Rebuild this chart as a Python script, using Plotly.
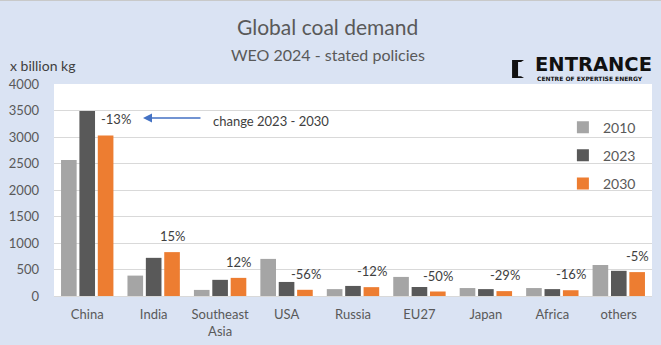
import plotly.graph_objects as go

# Coal demand by region, billion kg
regions = ["China", "India", "Southeast<br>Asia", "USA", "Russia", "EU27", "Japan", "Africa", "others"]
demand_2010 = [2565, 385, 115, 700, 130, 360, 150, 150, 585]
demand_2023 = [3490, 720, 305, 265, 190, 170, 130, 130, 475]
demand_2030 = [3030, 828, 342, 117, 167, 85, 92, 109, 451]
years = ["2010", "2023", "2030"]
colors = ["#a5a5a5", "#595959", "#ed7d31"]

TXT = "#595959"
FONT = "Lato"

fig = go.Figure()
for i, (yr, vals, col) in enumerate(zip(years, [demand_2010, demand_2023, demand_2030], colors)):
    fig.add_trace(go.Bar(
        x=regions, y=vals, name=yr, marker=dict(color=col, line=dict(width=0)),
        legendgroup=yr, hoverinfo="skip",
    ))

# Percentage change 2023 -> 2030 above the 2030 bars
for k, (reg, v23, v30) in enumerate(zip(regions, demand_2023, demand_2030)):
    pct = round((v30 / v23 - 1) * 100)
    fig.add_annotation(
        x=reg, y=v30, xref="x", yref="y", text=f"{pct}%", showarrow=False,
        xshift=29 if k == 0 else 19, yshift=16, yanchor="middle",
        font=dict(family=FONT, size=13, color="#404040"),
    )

# Arrow explaining the labels
fig.add_annotation(
    x=0.1488, y=3357, xref="paper", yref="y", ax=59, ay=0, axref="pixel", ayref="pixel",
    text="", showarrow=True, arrowhead=2, arrowsize=1.2, arrowwidth=1.5, arrowcolor="#4472c4",
)
fig.add_annotation(
    x=0.2625, y=0.825, xref="paper", yref="paper", xanchor="left", yanchor="middle",
    text="change 2023 - 2030", showarrow=False, font=dict(family=FONT, size=13, color="#404040"),
)

# Titles
fig.add_annotation(x=0.458, y=1.269, xref="paper", yref="paper", showarrow=False,
                   text="Global coal demand", yanchor="middle",
                   font=dict(family=FONT, size=21, color=TXT))
fig.add_annotation(x=0.458, y=1.1415, xref="paper", yref="paper", showarrow=False,
                   text="WEO 2024 - stated policies", yanchor="middle",
                   font=dict(family=FONT, size=16, color=TXT))
fig.add_annotation(x=-0.0769, y=1.0896, xref="paper", yref="paper", showarrow=False,
                   text="x billion kg", xanchor="left", yanchor="middle",
                   font=dict(family=FONT, size=14, color="#404040"))

# ENTRANCE logo
fig.add_shape(type="path", xref="paper", yref="paper",
              path="M 0.766 1.113 L 0.786 1.113 L 0.781 1.104 L 0.776 1.104 L 0.776 1.037 "
                   "L 0.781 1.037 L 0.786 1.028 L 0.766 1.028 Z",
              fillcolor="#111111", line=dict(width=0))
fig.add_annotation(x=0.801, y=1.090, xref="paper", yref="paper", showarrow=False,
                   text="<b>ENTRANCE</b>", xanchor="left", yanchor="middle",
                   font=dict(family="DejaVu Sans", size=19.5, color="#111111"))
fig.add_annotation(x=0.805, y=1.028, xref="paper", yref="paper", showarrow=False,
                   text="<b>CENTRE OF EXPERTISE ENERGY</b>", xanchor="left", yanchor="middle",
                   font=dict(family="DejaVu Sans", size=6, color="#111111"))

# Thin border along the top edge
fig.add_shape(type="line", xref="paper", yref="paper", x0=-0.2, x1=1.2, y0=1.394, y1=1.394,
              line=dict(color="#c8c8c8", width=1))

fig.update_layout(
    width=661, height=345,
    margin=dict(l=54, r=9, t=84, b=49, autoexpand=False),
    paper_bgcolor="#dae3f3", plot_bgcolor="#ffffff",
    barmode="group", bargap=0.17, bargroupgap=0.15,
    font=dict(family=FONT, color=TXT),
    showlegend=True,
    legend=dict(x=0.851, y=0.87, xanchor="left", yanchor="top", bgcolor="rgba(0,0,0,0)",
                font=dict(family=FONT, size=14, color=TXT), tracegroupgap=7,
                itemwidth=30),
    xaxis=dict(tickfont=dict(family=FONT, size=13, color=TXT), showgrid=False,
               showline=False, ticks="", ticklabelstandoff=9),
    yaxis=dict(range=[0, 4000], dtick=500, gridcolor="#d9d9d9", gridwidth=1,
               zeroline=True, zerolinecolor="#d9d9d9", zerolinewidth=1,
               tickfont=dict(family=FONT, size=13, color=TXT), ticks="",
               ticklabelstandoff=14, showline=False),
)

fig.write_html("out.html")
